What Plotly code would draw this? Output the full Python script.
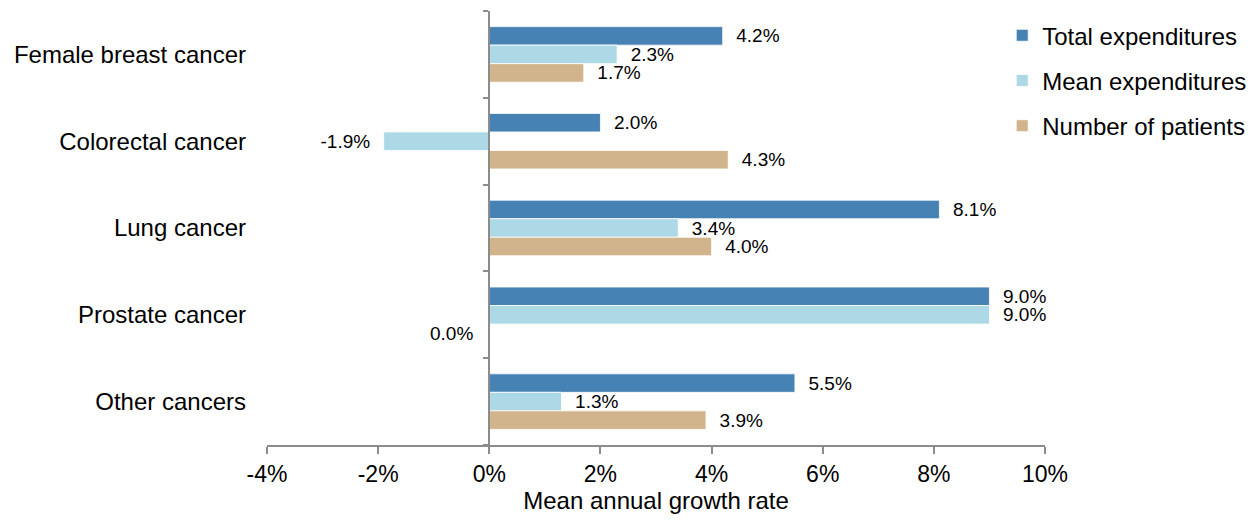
import plotly.graph_objects as go

categories = ["Female breast cancer", "Colorectal cancer", "Lung cancer", "Prostate cancer", "Other cancers"]
total_expenditures = [4.2, 2.0, 8.1, 9.0, 5.5]
mean_expenditures = [2.3, -1.9, 3.4, 9.0, 1.3]
number_of_patients = [1.7, 4.3, 4.0, 0.0, 3.9]
series_names = ["Total expenditures", "Mean expenditures", "Number of patients"]
x_ticks = [-4, -2, 0, 2, 4, 6, 8, 10]
x_tick_labels = [f"{v}%" for v in x_ticks]

colors = ["#4682B4", "#ADD8E6", "#D2B48C"]
FONT = "Arial, Liberation Sans, sans-serif"
NB = "\u00a0"
BARGAP = 0.36
series = [total_expenditures, mean_expenditures, number_of_patients]


def label(v):
    s = f"{v:.1f}%"
    return NB * 2 + s if v > 0 else s + NB * 2


fig = go.Figure()
annotations = []
n_series = len(series)
bw = (1 - BARGAP) / n_series
for si, (name, vals, col) in enumerate(zip(series_names, series, colors)):
    texts = [label(v) if v != 0 else "" for v in vals]
    fig.add_trace(go.Bar(
        y=categories, x=vals, orientation="h", name=name,
        marker=dict(color=col, line=dict(color="rgba(255,255,255,0.8)", width=1)),
        text=texts, textposition="outside",
        textfont=dict(family=FONT, size=19, color="black"),
        constraintext="none", cliponaxis=False,
        legendgroup=name,
    ))
    for ci, v in enumerate(vals):
        if v == 0:
            offset = -(1 - BARGAP) / 2 + bw * (si + 0.5)
            annotations.append(dict(
                x=v, y=ci + offset, xref="x", yref="y", text=f"{v:.1f}%",
                showarrow=False, xanchor="right", yanchor="middle", xshift=-14,
                font=dict(family=FONT, size=19, color="black")))

# invisible helper trace so the zero-based category axis (y2) is drawn
fig.add_trace(go.Scatter(x=[0], y=[0], yaxis="y2", mode="markers",
                         marker=dict(opacity=0), showlegend=False, hoverinfo="skip"))

fig.update_layout(
    width=1247, height=517,
    margin=dict(l=259, r=210, t=3, b=80, autoexpand=False),
    barmode="group", bargap=BARGAP, bargroupgap=0,
    plot_bgcolor="white", paper_bgcolor="white",
    font=dict(family=FONT, color="black", size=24),
    showlegend=True,
    annotations=annotations,
    legend=dict(x=0.945, xanchor="left", y=0.995, yanchor="top",
                font=dict(size=24, family=FONT), tracegroupgap=11,
                bgcolor="rgba(0,0,0,0)"),
    xaxis=dict(range=[-4, 10], tickvals=x_ticks, ticktext=x_tick_labels,
               showline=True, linecolor="#8c8c8c", linewidth=2,
               ticks="outside", ticklen=7, tickcolor="#8c8c8c", tickwidth=2,
               showgrid=False, zeroline=False, automargin=False,
               tickfont=dict(size=23, family=FONT),
               title=dict(text="Mean annual growth rate", font=dict(size=24, family=FONT), standoff=4)),
    yaxis=dict(autorange="reversed", showline=False, ticks="", showgrid=False,
               zeroline=False, automargin=False,
               tickfont=dict(size=24, family=FONT), ticklabelstandoff=20),
    yaxis2=dict(overlaying="y", anchor="free", position=(0 - (-4)) / 14, side="left",
                range=[len(categories) - 0.5, -0.5], type="linear",
                tickvals=[i - 0.5 for i in range(len(categories) + 1)],
                showticklabels=False, showline=True, linecolor="#8c8c8c", linewidth=2,
                ticks="outside", ticklen=5, tickcolor="#8c8c8c", tickwidth=2,
                showgrid=False, zeroline=False, automargin=False),
)

fig.write_html("out.html")
